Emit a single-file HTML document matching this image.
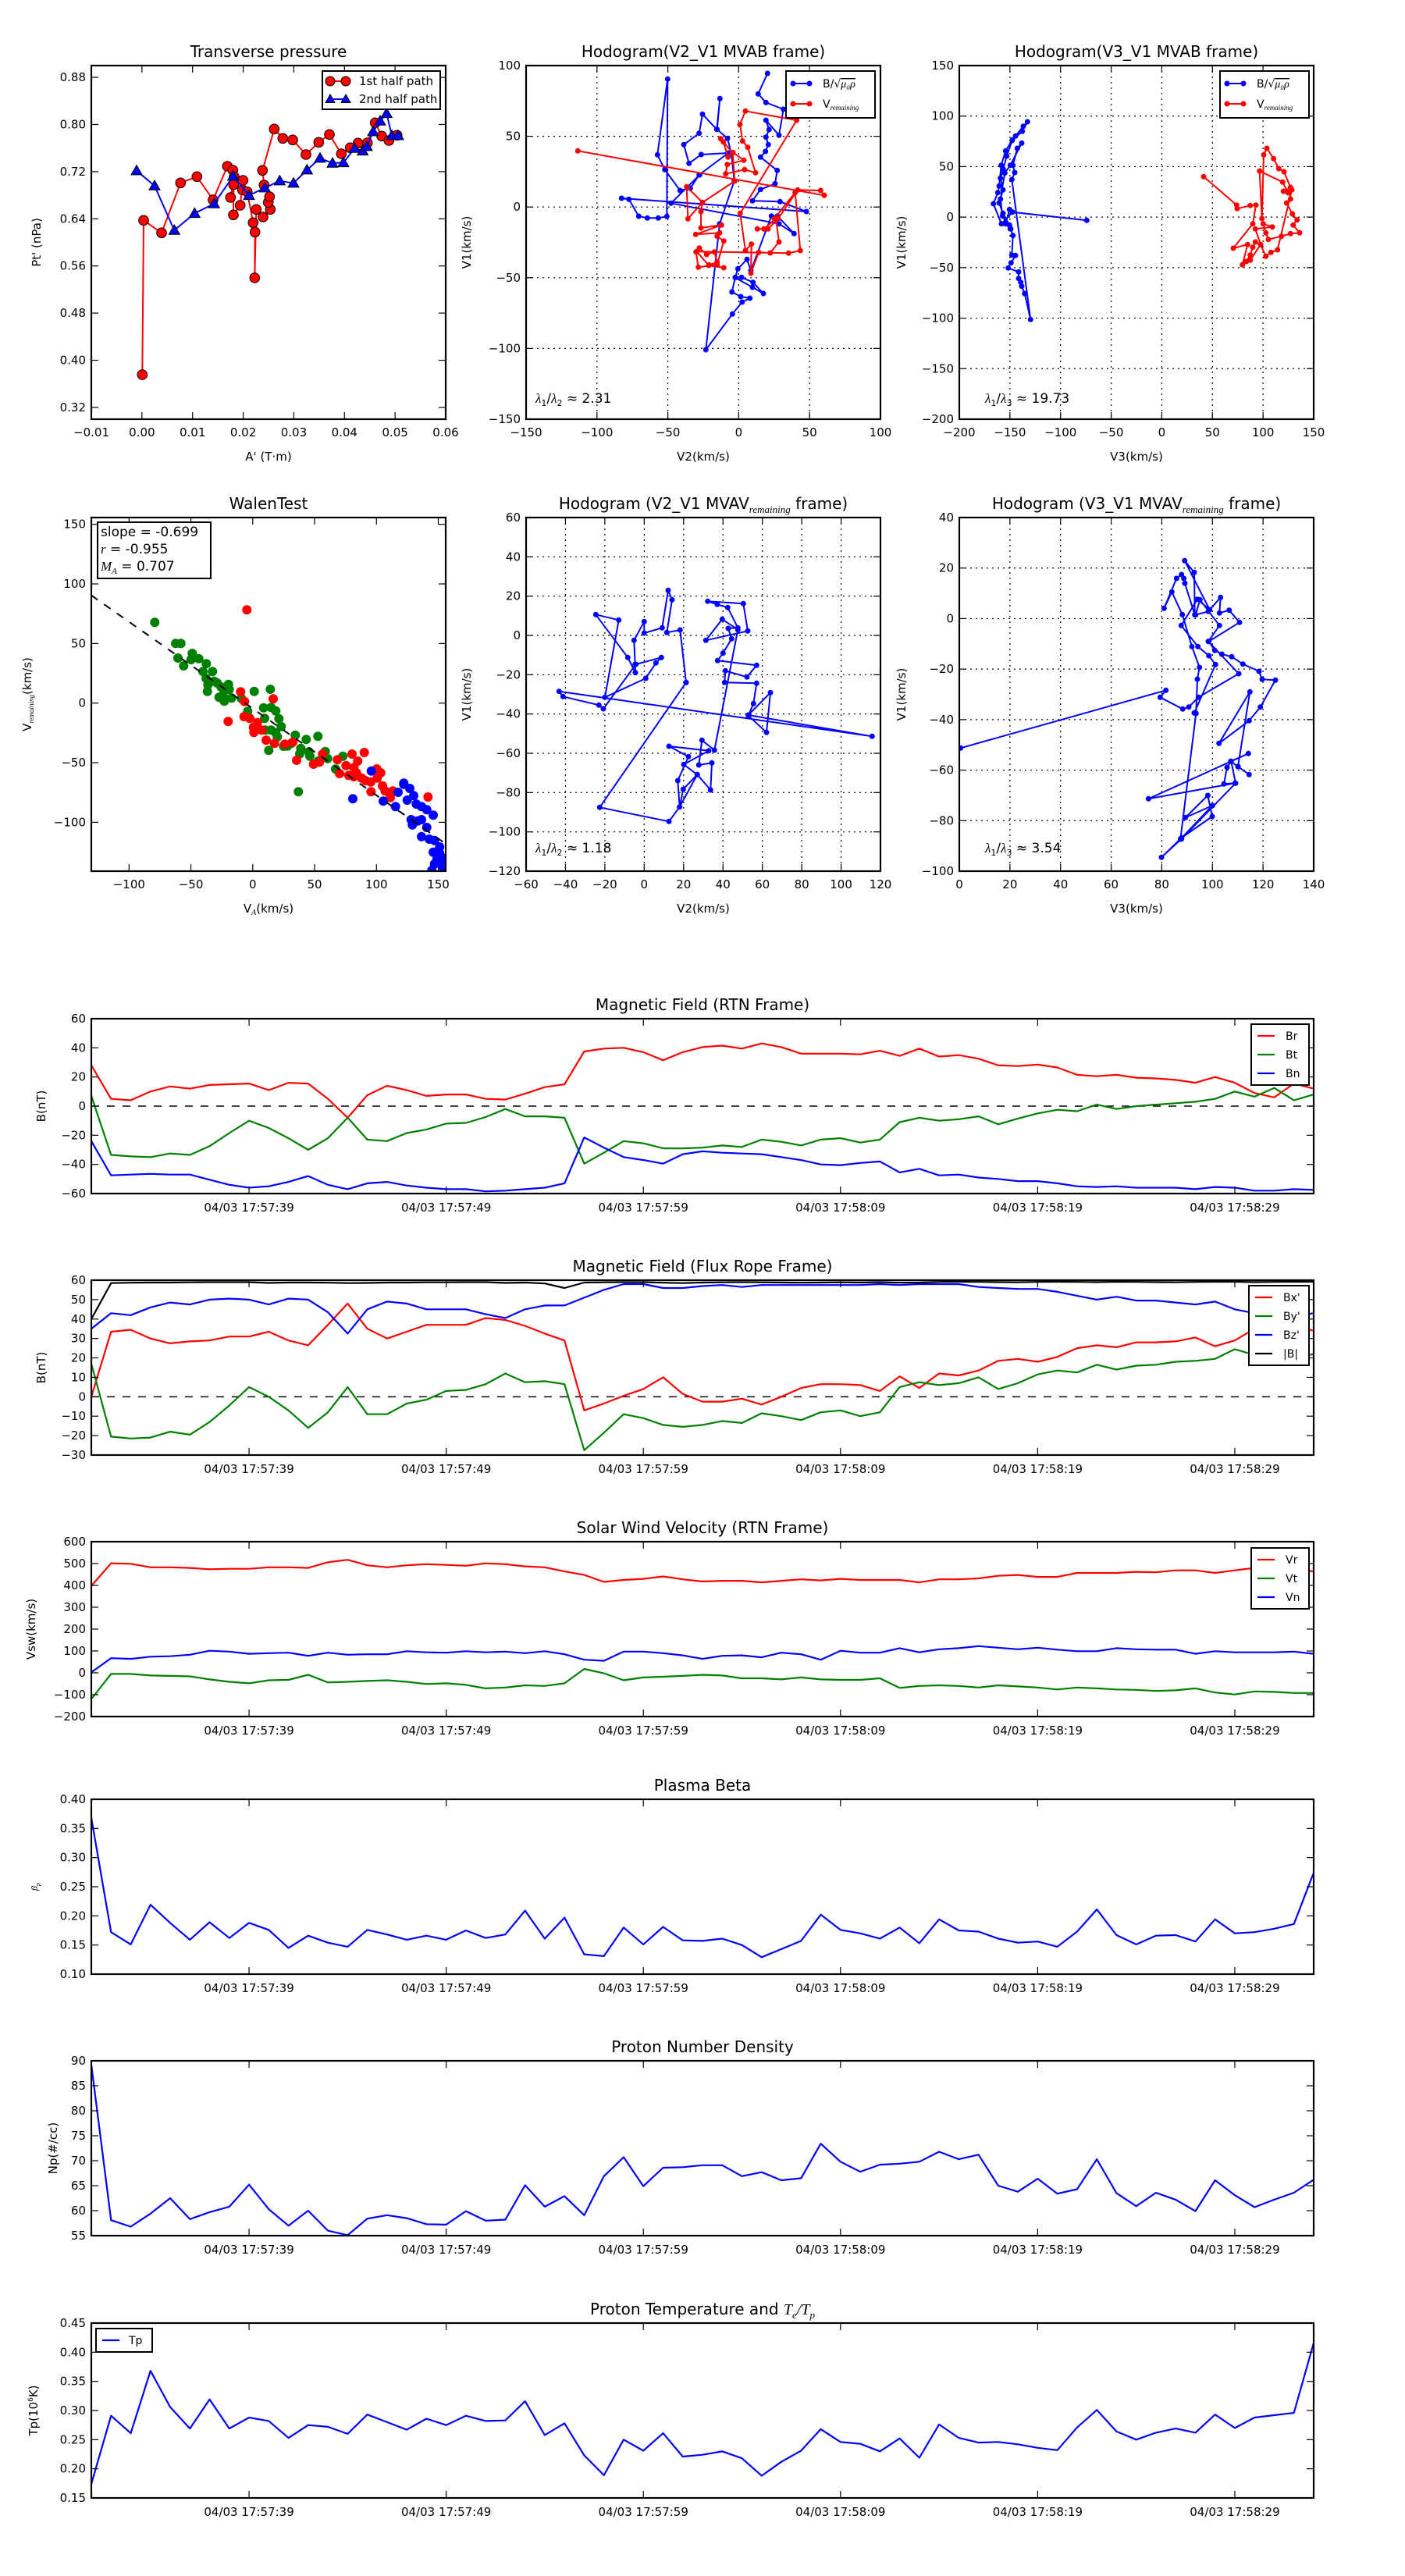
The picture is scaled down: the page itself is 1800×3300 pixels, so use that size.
<!DOCTYPE html>
<html><head><meta charset="utf-8">
<style>
html,body{margin:0;padding:0;background:#fff;}
svg{display:block;}
text{font-family:"DejaVu Sans","Liberation Sans",sans-serif;fill:#000;}
</style></head>
<body>
<svg id="s" xmlns="http://www.w3.org/2000/svg" width="1800" height="3300" viewBox="0 0 1800 3300"></svg>
<script>
var out=[];
function P(s){out.push(s);}
function fmt(v,d){var s=Math.abs(v).toFixed(d);return (v<-1e-9?"\u2212":"")+s;}
var clipId=0;
function frame(x0,y0,w,h){P('<rect x="'+x0+'" y="'+y0+'" width="'+w+'" height="'+h+'" fill="none" stroke="#000" stroke-width="2.2"/>');}
function clip(x0,y0,w,h){clipId++;P('<clipPath id="c'+clipId+'"><rect x="'+x0+'" y="'+y0+'" width="'+w+'" height="'+h+'"/></clipPath>');return 'c'+clipId;}
// generic axis with ticks
function axes(o){
  var x0=o.x0,y0=o.y0,w=o.w,h=o.h;
  var X=function(v){return x0+(v-o.xmin)/(o.xmax-o.xmin)*w;};
  var Y=function(v){return y0+h-(v-o.ymin)/(o.ymax-o.ymin)*h;};
  o.X=X;o.Y=Y;
  // grid
  if(o.grid){
    o.xt.forEach(function(v){var x=X(v);if(x>x0+1&&x<x0+w-1)P('<line x1="'+x+'" y1="'+y0+'" x2="'+x+'" y2="'+(y0+h)+'" stroke="#000" stroke-width="1.2" stroke-dasharray="2,5"/>');});
    o.yt.forEach(function(v){var y=Y(v);if(y>y0+1&&y<y0+h-1)P('<line x1="'+x0+'" y1="'+y+'" x2="'+(x0+w)+'" y2="'+y+'" stroke="#000" stroke-width="1.2" stroke-dasharray="2,5"/>');});
  }
  // ticks + labels
  if(o.xt){o.xt.forEach(function(v){var x=X(v);
    P('<line x1="'+x+'" y1="'+(y0+h)+'" x2="'+x+'" y2="'+(y0+h-9)+'" stroke="#000" stroke-width="1.2"/>');
    P('<line x1="'+x+'" y1="'+y0+'" x2="'+x+'" y2="'+(y0+9)+'" stroke="#000" stroke-width="1.2"/>');
    if(!o.noxl)P('<text x="'+x+'" y="'+(y0+h+22)+'" font-size="15" text-anchor="middle">'+fmt(v,o.xd||0)+'</text>');});}
  o.yt.forEach(function(v){var y=Y(v);
    P('<line x1="'+x0+'" y1="'+y+'" x2="'+(x0+9)+'" y2="'+y+'" stroke="#000" stroke-width="1.2"/>');
    P('<line x1="'+(x0+w)+'" y1="'+y+'" x2="'+(x0+w-9)+'" y2="'+y+'" stroke="#000" stroke-width="1.2"/>');
    P('<text x="'+(x0-7)+'" y="'+(y+5)+'" font-size="15" text-anchor="end">'+fmt(v,o.yd||0)+'</text>');});
  if(o.title)P('<text x="'+(x0+w/2)+'" y="'+(y0-11)+'" font-size="20" text-anchor="middle">'+o.title+'</text>');
  if(o.xlabel)P('<text x="'+(x0+w/2)+'" y="'+(y0+h+53)+'" font-size="15" text-anchor="middle">'+o.xlabel+'</text>');
  if(o.ylabel)P('<text transform="translate('+o.ylx+','+(y0+h/2)+') rotate(-90)" font-size="15" text-anchor="middle">'+o.ylabel+'</text>');
  return o;
}
function poly(pts,col,sw,cid,dash){
  var d=pts.map(function(p,i){return (i?'L':'M')+p[0].toFixed(1)+' '+p[1].toFixed(1);}).join('');
  P('<path d="'+d+'" fill="none" stroke="'+col+'" stroke-width="'+sw+'" stroke-linejoin="round"'+(cid?' clip-path="url(#'+cid+')"':'')+(dash?' stroke-dasharray="'+dash+'"':'')+'/>');
}
function dots(pts,col,r,cid,stroke){
  var g='<g'+(cid?' clip-path="url(#'+cid+')"':'')+'>';
  pts.forEach(function(p){g+='<circle cx="'+p[0].toFixed(1)+'" cy="'+p[1].toFixed(1)+'" r="'+r+'" fill="'+col+'"'+(stroke?' stroke="#000" stroke-width="1"':'')+'/>';});
  P(g+'</g>');
}
function tris(pts,col,s){
  var g='<g>';
  pts.forEach(function(p){var x=p[0],y=p[1];g+='<polygon points="'+x+','+(y-s)+' '+(x-s)+','+(y+s*0.75)+' '+(x+s)+','+(y+s*0.75)+'" fill="'+col+'" stroke="#000" stroke-width="1"/>';});
  P(g+'</g>');
}
function Z(off,arr){return arr.map(function(p){return [off[0]+p[0]/3,off[1]+p[1]/3];});}

// ================= ROW 1 =================
var L1=117,L2=674,L3=1229,W=454,T1=84,T2=663,H=453;
// Panel 1 transverse pressure
var a=axes({x0:L1,y0:T1,w:W,h:H,xmin:-0.01,xmax:0.06,ymin:0.30,ymax:0.90,xt:[-0.01,0,0.01,0.02,0.03,0.04,0.05,0.06],xd:2,yt:[0.32,0.40,0.48,0.56,0.64,0.72,0.80,0.88],yd:2,title:"Transverse pressure",xlabel:"A' (T\u00b7m)",ylabel:"Pt' (nPa)",ylx:52});
var off1=[110,80];
var red1=Z(off1,[[217,1200],[222,607],[291,655],[364,463],[427,439],[489,528],[544,399],[565,414],[570,440],[556,519],[568,470],[567,586],[593,549],[604,453],[602,490],[620,497],[643,616],[650,652],[649,828],[655,565],[681,594],[709,565],[701,538],[706,516],[685,471],[679,415],[724,256],[757,292],[795,298],[846,354],[895,307],[936,277],[982,351],[1016,328],[1046,310],[1082,309],[1112,232],[1137,283],[1165,300],[1196,280]]);
var blue1=Z(off1,[[195,416],[264,474],[340,645],[418,580],[493,543],[566,437],[627,511],[688,482],[745,455],[798,464],[850,413],[900,368],[948,387],[990,385],[1033,330],[1064,340],[1080,323],[1104,266],[1131,225],[1156,196],[1176,281],[1200,281]]);
poly(red1,"#f00",2);dots(red1,"#f00",6.3,null,true);
poly(blue1,"#00f",2);tris(blue1,"#00f",7);
frame(L1,T1,W,H);
P('<rect x="413" y="91" width="151" height="49" fill="#fff" stroke="#000" stroke-width="2"/>');
P('<line x1="423" y1="104" x2="443" y2="104" stroke="#f00" stroke-width="2"/>');
dots([[423,104],[443,104]],"#f00",6,null,true);
P('<line x1="423" y1="127" x2="443" y2="127" stroke="#00f" stroke-width="2"/>');
tris([[423,127],[443,127]],"#00f",6);
P('<text x="460" y="109" font-size="15">1st half path</text>');
P('<text x="460" y="132" font-size="15">2nd half path</text>');

// legend helper for hodograms
function hlegend(x,y){
  P('<rect x="'+x+'" y="'+y+'" width="114" height="60" fill="#fff" stroke="#000" stroke-width="2"/>');
  P('<line x1="'+(x+8)+'" y1="'+(y+16)+'" x2="'+(x+30)+'" y2="'+(y+16)+'" stroke="#00f" stroke-width="2"/>');
  dots([[x+9,y+16],[x+30,y+16]],"#00f",3.5);
  P('<line x1="'+(x+8)+'" y1="'+(y+42)+'" x2="'+(x+30)+'" y2="'+(y+42)+'" stroke="#f00" stroke-width="2"/>');
  dots([[x+9,y+42],[x+30,y+42]],"#f00",3.5);
  P('<text x="'+(x+47)+'" y="'+(y+21)+'" font-size="14">B/\u221A<tspan font-family="Liberation Serif" font-style="italic" text-decoration="overline">\u03BC\u2080\u03C1</tspan></text>');
  P('<text x="'+(x+47)+'" y="'+(y+47)+'" font-size="14">V<tspan font-family="Liberation Serif" font-style="italic" font-size="9" dy="3">remaining</tspan></text>');
}
// Panel 2 hodogram V2 V1
a=axes({x0:L2,y0:T1,w:W,h:H,xmin:-150,xmax:100,ymin:-150,ymax:100,xt:[-150,-100,-50,0,50,100],yt:[-150,-100,-50,0,50,100],grid:true,title:"Hodogram(V2_V1 MVAB frame)",xlabel:"V2(km/s)",ylabel:"V1(km/s)",ylx:603});
var off2=[672,80],c=clip(L2,T1,W,H);
var B2=Z(off2,[[934,42],[898,121],[928,154],[995,180],[978,280],[928,222],[940,258],[928,287],[937,316],[926,342],[907,364],[971,415],[963,466],[907,488],[876,532],[982,535],[1083,573],[373,522],[401,526],[439,591],[472,598],[514,598],[547,592],[550,64],[511,355],[539,412],[598,492],[637,484],[671,432],[783,348],[679,354],[632,388],[612,316],[671,272],[684,199],[739,257],[751,139],[740,257],[780,292],[795,350],[806,455],[750,620],[697,1104],[799,967],[836,921],[866,906],[831,900],[797,882],[810,826],[834,826],[878,845],[918,888],[876,864],[810,827],[820,793],[855,757],[870,800],[949,590],[972,590],[1036,658],[978,620],[563,541],[673,432]]);
var R2=Z(off2,[[205,340],[1152,511],[1138,492],[1050,490],[975,600],[936,640],[895,640],[920,640],[966,600],[978,690],[944,732],[900,730],[870,810],[872,698],[849,723],[829,580],[1046,222],[849,187],[828,238],[838,302],[858,326],[888,424],[846,412],[773,428],[779,392],[843,376],[801,346],[782,364],[764,305],[754,293],[800,348],[808,456],[684,538],[628,601],[623,478],[684,538],[678,573],[678,636],[757,625],[658,661],[750,655],[740,668],[766,686],[740,778],[668,787],[659,728],[672,713],[700,738],[730,728],[740,768],[709,778],[766,789],[708,780],[662,727],[1015,733],[1060,723],[1040,500],[960,600]]);
poly(B2,"#00f",2,c);dots(B2,"#00f",3.5,c);
poly(R2,"#f00",2,c);dots(R2,"#f00",3.5,c);
frame(L2,T1,W,H);hlegend(1007,91);
P('<text x="686" y="516" font-size="17"><tspan font-family="Liberation Serif" font-style="italic">\u03BB</tspan><tspan font-size="11" dy="4">1</tspan><tspan dy="-4">/</tspan><tspan font-family="Liberation Serif" font-style="italic">\u03BB</tspan><tspan font-size="11" dy="4">2</tspan><tspan dy="-4"> \u2248 2.31</tspan></text>');

// Panel 3 hodogram V3 V1
a=axes({x0:L3,y0:T1,w:W,h:H,xmin:-200,xmax:150,ymin:-200,ymax:150,xt:[-200,-150,-100,-50,0,50,100,150],yt:[-200,-150,-100,-50,0,50,100,150],grid:true,title:"Hodogram(V3_V1 MVAB frame)",xlabel:"V3(km/s)",ylabel:"V1(km/s)",ylx:1160});
var off3=[1235,80];c=clip(L3,T1,W,H);
var B3=Z(off3,[[472,607],[187,575],[144,620],[113,543],[130,500],[135,475],[143,395],[160,340],[185,300],[198,283],[228,245],[244,228],[224,265],[186,298],[164,360],[151,410],[140,445],[150,490],[135,540],[150,580],[175,625],[180,640],[188,665],[184,740],[198,742],[181,770],[170,790],[210,805],[210,830],[218,845],[222,860],[233,888],[256,988],[184,450],[195,423],[188,395],[205,330],[222,310],[178,395],[157,425],[140,525],[148,590],[178,640],[160,620],[175,565]]);
var R3=Z(off3,[[921,439],[1048,548],[1050,562],[1100,550],[1122,548],[1110,620],[1035,714],[1090,700],[1070,778],[1100,760],[1140,700],[1120,640],[1185,632],[1150,620],[1160,655],[1170,680],[1220,668],[1255,658],[1290,655],[1265,625],[1280,605],[1262,582],[1240,540],[1255,525],[1250,500],[1228,495],[1255,480],[1230,420],[1210,408],[1190,370],[1164,330],[1152,355],[1145,600],[1136,417],[1225,460],[1245,500],[1260,490],[1205,720],[1180,730],[1160,745],[1140,700],[1120,690],[1110,710],[1100,740],[1085,765]]);
poly(B3,"#00f",2,c);dots(B3,"#00f",3.5,c);
poly(R3,"#f00",2,c);dots(R3,"#f00",3.5,c);
frame(L3,T1,W,H);hlegend(1563,91);
P('<text x="1262" y="516" font-size="17"><tspan font-family="Liberation Serif" font-style="italic">\u03BB</tspan><tspan font-size="11" dy="4">1</tspan><tspan dy="-4">/</tspan><tspan font-family="Liberation Serif" font-style="italic">\u03BB</tspan><tspan font-size="11" dy="4">3</tspan><tspan dy="-4"> \u2248 19.73</tspan></text>');

// ================= ROW 2 =================
// Walen test
a=axes({x0:L1,y0:T2,w:W,h:H,xmin:-130.5,xmax:156,ymin:-141,ymax:155.7,xt:[-100,-50,0,50,100,150],yt:[-100,-50,0,50,100,150],title:"WalenTest",xlabel:"V<tspan font-size=\"10\" dy=\"3\" font-family=\"Liberation Serif\" font-style=\"italic\">A</tspan><tspan dy=\"-3\">(km/s)</tspan>",ylabel:"V<tspan font-size=\"9\" dy=\"3\" font-family=\"Liberation Serif\" font-style=\"italic\">remaining</tspan><tspan dy=\"-3\">(km/s)</tspan>",ylx:40});
var offW=[110,660];c=clip(L1,T2,W,H);
var GW=Z(offW,[[265,412],[345,493],[365,493],[354,549],[376,579],[409,531],[404,555],[434,551],[463,571],[450,601],[487,601],[462,627],[469,652],[467,677],[493,638],[505,645],[520,660],[548,650],[551,670],[527,690],[512,700],[532,715],[560,703],[598,704],[622,754],[647,677],[709,669],[683,740],[712,739],[730,752],[687,781],[742,782],[751,812],[712,826],[690,826],[730,836],[736,852],[703,904],[760,888],[775,887],[790,877],[805,845],[847,862],[826,896],[822,917],[857,909],[861,926],[892,850],[920,908],[893,945],[929,935],[960,976],[988,926],[817,1063]]);
var RW=Z(offW,[[619,364],[595,679],[720,706],[610,716],[547,793],[608,774],[630,781],[659,797],[644,815],[646,835],[676,826],[693,865],[725,877],[765,880],[795,872],[810,942],[875,957],[898,949],[910,918],[967,940],[1023,918],[1070,912],[975,993],[1000,962],[1030,970],[1045,945],[1030,1005],[1010,1000],[1040,990],[1060,1010],[1075,1020],[1095,1025],[1118,975],[1133,990],[1120,1010],[1140,1040],[1150,1060],[1096,1063],[1170,1085],[1180,1060],[1315,1083]]);
var BW=Z(offW,[[1097,983],[1026,1090],[1143,1099],[1190,1120],[1200,1065],[1222,1034],[1245,1050],[1260,1078],[1235,1095],[1270,1110],[1290,1120],[1310,1132],[1335,1153],[1250,1170],[1275,1175],[1255,1190],[1310,1200],[1290,1235],[1320,1245],[1340,1250],[1360,1275],[1335,1295],[1350,1320],[1365,1330],[1340,1340],[1370,1350],[1380,1360],[1330,1365],[1360,1300],[1375,1320],[1222,1030],[1290,1170]]);
dots(GW,"#008000",6,c);dots(RW,"#f00",6,c);dots(BW,"#00f",6,c);
poly([[117,762.7],[571,1081]],"#000",2,c,"10,10");
frame(L1,T2,W,H);
P('<rect x="125" y="669" width="145" height="72" fill="#fff" stroke="#000" stroke-width="2"/>');
P('<text x="129" y="687" font-size="17">slope = -0.699</text>');
P('<text x="129" y="709" font-size="17"><tspan font-family="Liberation Serif" font-style="italic">r</tspan> = -0.955</text>');
P('<text x="129" y="731" font-size="17"><tspan font-family="Liberation Serif" font-style="italic">M</tspan><tspan font-family="Liberation Serif" font-style="italic" font-size="11" dy="4">A</tspan><tspan dy="-4"> = 0.707</tspan></text>');

// Hodogram V2 V1 MVAV
var sub='<tspan font-family="Liberation Serif" font-style="italic" font-size="13" dy="5">remaining</tspan><tspan dy="-5">';
a=axes({x0:L2,y0:T2,w:W,h:H,xmin:-60,xmax:120,ymin:-120,ymax:60,xt:[-60,-40,-20,0,20,40,60,80,100,120],yt:[-120,-100,-80,-60,-40,-20,0,20,40,60],grid:true,title:"Hodogram (V2_V1 MVAV"+sub+" frame)</tspan>",xlabel:"V2(km/s)",ylabel:"V1(km/s)",ylx:603});
var off5=[672,660];c=clip(L2,T2,W,H);
var B5=Z(off5,[[621,643],[598,441],[547,451],[567,325],[552,289],[529,433],[460,453],[460,409],[421,481],[425,573],[426,605],[397,547],[274,382],[362,403],[309,700],[466,627],[505,568],[526,547],[428,573],[303,744],[286,730],[148,697],[133,677],[1336,850],[860,768],[945,682],[930,835],[860,770],[880,724],[892,646],[769,643],[772,598],[855,622],[892,577],[742,559],[763,530],[796,475],[783,435],[820,433],[781,355],[741,343],[704,331],[841,340],[858,445],[697,481],[760,400],[820,440],[730,903],[682,865],[670,960],[720,952],[715,1056],[664,997],[612,958],[708,905],[555,888],[630,928],[589,1020],[596,1121],[610,1053],[664,997],[596,1121],[555,1177],[289,1123],[621,643]]);
poly(B5,"#00f",2,c);dots(B5,"#00f",3.5,c);
frame(L2,T2,W,H);
P('<text x="686" y="1092" font-size="17"><tspan font-family="Liberation Serif" font-style="italic">\u03BB</tspan><tspan font-size="11" dy="4">1</tspan><tspan dy="-4">/</tspan><tspan font-family="Liberation Serif" font-style="italic">\u03BB</tspan><tspan font-size="11" dy="4">2</tspan><tspan dy="-4"> \u2248 1.18</tspan></text>');

// Hodogram V3 V1 MVAV
a=axes({x0:L3,y0:T2,w:W,h:H,xmin:0,xmax:140,ymin:-100,ymax:40,xt:[0,20,40,60,80,100,120,140],yt:[-100,-80,-60,-40,-20,0,20,40],grid:true,title:"Hodogram (V3_V1 MVAV"+sub+" frame)</tspan>",xlabel:"V3(km/s)",ylabel:"V1(km/s)",ylx:1160});
var off6=[1228,660];c=clip(L3,T2,W,H);
var B6=Z(off6,[[8,895],[797,673],[775,700],[862,745],[885,737],[922,700],[1077,609],[960,485],[1003,424],[928,325],[911,383],[960,370],[1007,316],[1003,376],[1040,365],[1080,412],[962,485],[985,520],[1012,534],[1050,544],[1093,572],[1155,600],[1167,631],[1218,634],[1160,737],[1117,790],[1001,877],[1120,679],[1074,966],[1117,997],[1074,966],[1046,946],[1114,916],[730,1090],[1063,1030],[1020,1033],[1032,969],[1048,946],[1065,1030],[857,1244],[780,1315],[857,1240],[975,1158],[958,1077],[872,1162],[976,1116],[853,1245],[913,762],[918,630],[926,585],[897,505],[860,382],[820,295],[790,358],[838,243],[857,228],[866,243],[870,262],[908,383],[906,220],[869,175],[965,363],[918,323],[856,424],[920,505],[962,540],[988,574],[906,760]]);
poly(B6,"#00f",2,c);dots(B6,"#00f",3.5,c);
frame(L3,T2,W,H);
P('<text x="1262" y="1092" font-size="17"><tspan font-family="Liberation Serif" font-style="italic">\u03BB</tspan><tspan font-size="11" dy="4">1</tspan><tspan dy="-4">/</tspan><tspan font-family="Liberation Serif" font-style="italic">\u03BB</tspan><tspan font-size="11" dy="4">3</tspan><tspan dy="-4"> \u2248 3.54</tspan></text>');

// ================= TIME SERIES =================
var TX0=117,TW=1566,TH=224,dx=TW/62;
var tticks=["04/03 17:57:39","04/03 17:57:49","04/03 17:57:59","04/03 17:58:09","04/03 17:58:19","04/03 17:58:29"];
function ts(o){
  var x0=TX0,y0=o.y0,w=TW,h=TH;
  var Y=function(v){return y0+h-(v-o.ymin)/(o.ymax-o.ymin)*h;};
  var cid=clip(x0,y0,w,h);
  if(o.zero)P('<line x1="'+x0+'" y1="'+Y(0)+'" x2="'+(x0+w)+'" y2="'+Y(0)+'" stroke="#000" stroke-width="1.5" stroke-dasharray="10,10"/>');
  o.series.forEach(function(s){
    poly(s.d.map(function(v,i){return [x0+i*dx,Y(v)];}),s.c,2.2,cid);
  });
  frame(x0,y0,w,h);
  for(var k=0;k<6;k++){var x=x0+(8+10*k)*dx;
    P('<line x1="'+x+'" y1="'+(y0+h)+'" x2="'+x+'" y2="'+(y0+h-9)+'" stroke="#000" stroke-width="1.2"/>');
    P('<line x1="'+x+'" y1="'+y0+'" x2="'+x+'" y2="'+(y0+9)+'" stroke="#000" stroke-width="1.2"/>');
    P('<text x="'+x+'" y="'+(y0+h+23)+'" font-size="15" text-anchor="middle">'+tticks[k]+'</text>');}
  for(var v=o.ymin;v<=o.ymax+1e-9;v+=o.ys){var y=Y(v);
    P('<line x1="'+x0+'" y1="'+y+'" x2="'+(x0+9)+'" y2="'+y+'" stroke="#000" stroke-width="1.2"/>');
    P('<line x1="'+(x0+w)+'" y1="'+y+'" x2="'+(x0+w-9)+'" y2="'+y+'" stroke="#000" stroke-width="1.2"/>');
    P('<text x="'+(x0-7)+'" y="'+(y+5)+'" font-size="15" text-anchor="end">'+fmt(v,o.yd||0)+'</text>');}
  P('<text x="'+(x0+w/2)+'" y="'+(y0-11)+'" font-size="20" text-anchor="middle">'+o.title+'</text>');
  P('<text transform="translate('+o.ylx+','+(y0+h/2)+') rotate(-90)" font-size="15" text-anchor="middle">'+o.ylabel+'</text>');
  if(o.legend){var lx=o.legend[0],ly=o.legend[1],n=o.series.length;
    P('<rect x="'+lx+'" y="'+ly+'" width="'+o.legend[2]+'" height="'+(n*24+6)+'" fill="#fff" stroke="#000" stroke-width="2"/>');
    o.series.forEach(function(s,i){var yy=ly+15+i*24;
      P('<line x1="'+(lx+8)+'" y1="'+yy+'" x2="'+(lx+30)+'" y2="'+yy+'" stroke="'+s.c+'" stroke-width="2.2"/>');
      P('<text x="'+(lx+o.legend[3])+'" y="'+(yy+5)+'" font-size="14">'+s.n+'</text>');});}
}
var Br=[28,5,4,10,13.5,12,14.5,15,15.5,11,16,15.5,5,-8,7.5,14,11,7,8,8,5,4.5,8.5,13,15,37.5,39.5,40,37,31.5,37,40.5,41.5,39.5,43,40.5,36,36,36,35.5,38,34.5,39.5,34,35,32.5,28,27.5,28.5,26.5,21.5,20.5,21.5,19.5,19,18,16,20,16,9,6,15.5,12];
var Bt=[7,-33.5,-34.5,-35,-32.5,-33.5,-27.5,-18.5,-10,-15,-22,-30,-22,-8,-23,-24,-18.5,-16,-12,-11.5,-7.5,-2,-7,-7,-8,-39.5,-32,-24,-25.5,-29,-29,-28.5,-27,-28,-23,-24.5,-27,-23,-22,-25,-23,-11,-8,-10,-9,-7,-12.5,-8.5,-5,-2.5,-3.5,1,-2,0,1,2,3,5,10,6.5,12.5,4,8];
var Bn=[-24,-47.5,-47,-46.5,-47,-47,-50.5,-54,-56,-55,-52,-48,-54,-57,-53,-52,-54.5,-56,-57,-57,-58.5,-58,-57,-56,-53,-21.5,-28.5,-35,-37,-39.5,-33,-31,-32,-32.5,-33,-35,-37,-40,-40.5,-39,-38,-45.5,-43,-47.5,-47,-49,-50,-51.5,-51.5,-53,-55,-55.5,-55,-56,-56,-56,-57,-55.5,-56,-58,-58,-57,-57.5];
ts({y0:1305,ymin:-60,ymax:60,ys:20,zero:true,title:"Magnetic Field (RTN Frame)",ylabel:"B(nT)",ylx:58,series:[{d:Br,c:"#f00",n:"Br"},{d:Bt,c:"#008000",n:"Bt"},{d:Bn,c:"#00f",n:"Bn"}],legend:[1603,1312,74,44]});
var Bx=[0,33.5,34.5,30,27.5,28.5,29,31,31,33.5,29,26.5,37,48,35,30,33.5,37,37,37,40.5,39.5,36.5,32.5,29,-7,-3.5,0.5,4,10,1.5,-2.5,-2.5,-1,-4,0,4.5,6.5,6.5,6,3,10.5,4.5,12,11,13.5,18.5,19.5,18,20.5,25,26.5,25.5,28,28,28.5,30.5,26,29,35,35,36.5,34];
var By=[17,-20.5,-21.5,-21,-18,-19.5,-13,-4.5,5,0,-7,-16,-8,5,-9,-9,-3.5,-1.5,3,3.5,6.5,12,7.5,8,6.5,-27.5,-18.5,-9,-11,-14.5,-15.5,-14.5,-12.5,-13.5,-8.5,-10,-12,-8,-7,-10,-8,5,7.5,6,7,10,4,7,11.5,13.5,12.5,16.5,14,16,16.5,18,18.5,19.5,24.5,21.5,19.5,20,22];
var Bz=[35,43,42,46,48.5,47.5,50,50.5,50,47.5,50.5,50,43.5,32.5,45,49,48,45,45,45,42.5,40.5,45,47,47,51,55,58,58,56,56,57,57.5,56.5,57.5,57.5,57.5,57.5,57.5,57.5,58,57.5,58,58,58,56.5,56,55.5,55.5,54,52,50,51.5,49.5,49.5,48.5,47.5,49,45,43,41,41.5,43];
var Bm=[40,58.5,58.7,58.8,58.8,58.9,59,59,59,58.6,58.8,58.8,58.7,58.5,58.6,58.8,58.8,58.9,58.9,59,59,58.6,58.8,58.3,56,58.8,58.9,59,59,58.7,58.5,58.8,58.9,59,58.9,58.8,58.7,58.8,58.9,58.8,59,58.7,58.8,59.1,59.2,59.1,59,58.9,59.1,59.2,59.1,59,59.2,59.1,59,58.9,59.1,59.2,59.2,59,59.1,59.2,59.2];
ts({y0:1640,ymin:-30,ymax:60,ys:10,zero:true,title:"Magnetic Field (Flux Rope Frame)",ylabel:"B(nT)",ylx:58,series:[{d:Bx,c:"#f00",n:"Bx'"},{d:By,c:"#008000",n:"By'"},{d:Bz,c:"#00f",n:"Bz'"},{d:Bm,c:"#000",n:"|B|"}],legend:[1600,1647,77,44]});
var Vr=[398,501,499,483,483,480,474,476,476,483,483,480,506,517,492,483,492,497,494,490,501,497,487,483,464,448,416,425,430,441,428,418,421,421,414,421,428,423,430,425,425,425,414,428,428,432,444,448,439,439,457,457,457,462,460,469,469,457,469,480,490,476,464];
var Vt=[-120,-5,-5,-12,-14,-16,-30,-41,-48,-34,-32,-9,-44,-41,-37,-34,-41,-51,-48,-55,-71,-67,-57,-60,-48,18,-2,-34,-21,-18,-14,-9,-12,-25,-25,-30,-21,-30,-32,-32,-25,-69,-60,-57,-60,-67,-57,-62,-67,-76,-67,-71,-76,-78,-83,-80,-71,-90,-99,-85,-87,-92,-92];
var Vn=[2,67,64,74,76,83,101,97,87,90,92,78,92,83,85,85,99,94,92,99,94,97,90,99,85,60,55,97,97,90,80,64,78,80,71,92,85,60,101,92,92,113,94,108,113,122,115,108,115,106,99,99,113,108,106,106,87,99,94,94,94,97,87];
ts({y0:1975,ymin:-200,ymax:600,ys:100,title:"Solar Wind Velocity (RTN Frame)",ylabel:"Vsw(km/s)",ylx:45,series:[{d:Vr,c:"#f00",n:"Vr"},{d:Vt,c:"#008000",n:"Vt"},{d:Vn,c:"#00f",n:"Vn"}],legend:[1603,1983,74,44]});
var Be=[.368,.172,.151,.219,.188,.159,.189,.162,.188,.176,.145,.166,.154,.147,.176,.168,.159,.166,.159,.175,.162,.168,.209,.161,.197,.134,.131,.180,.151,.181,.158,.157,.161,.150,.129,.143,.157,.202,.176,.170,.161,.180,.153,.194,.175,.173,.161,.154,.156,.147,.173,.211,.167,.151,.166,.167,.156,.194,.170,.172,.178,.186,.274];
ts({y0:2305,ymin:0.10,ymax:0.40,ys:0.05,yd:2,title:"Plasma Beta",ylabel:"<tspan font-family=\"Liberation Serif\" font-style=\"italic\" font-size=\"12\">\u03B2</tspan><tspan font-family=\"Liberation Serif\" font-style=\"italic\" font-size=\"8\" dy=\"3\">p</tspan>",ylx:48,series:[{d:Be,c:"#00f",n:""}]});
var Np=[89.2,58.1,56.8,59.4,62.5,58.3,59.7,60.8,65.2,60.3,57,60,56,55.1,58.4,59.1,58.5,57.3,57.2,59.9,58,58.2,65.1,60.8,62.9,59.1,66.9,70.7,64.9,68.6,68.7,69.1,69.1,66.9,67.7,66.1,66.5,73.4,69.8,67.8,69.2,69.4,69.8,71.8,70.3,71.2,65,63.8,66.4,63.4,64.3,70.3,63.5,60.9,63.6,62.2,59.9,66.1,63.1,60.7,62.2,63.6,66.2];
ts({y0:2640,ymin:55,ymax:90,ys:5,title:"Proton Number Density",ylabel:"Np(#/cc)",ylx:73,series:[{d:Np,c:"#00f",n:""}]});
var Tp=[.174,.291,.261,.368,.306,.269,.319,.269,.288,.282,.253,.275,.272,.260,.293,.280,.267,.286,.275,.291,.282,.283,.316,.258,.278,.223,.189,.250,.231,.261,.221,.224,.230,.218,.188,.212,.231,.268,.246,.243,.230,.252,.219,.276,.253,.245,.246,.242,.236,.232,.271,.301,.264,.250,.262,.269,.262,.293,.270,.288,.292,.296,.416];
ts({y0:2976,ymin:0.15,ymax:0.45,ys:0.05,yd:2,title:"Proton Temperature and <tspan font-family=\"Liberation Serif\" font-style=\"italic\">T</tspan><tspan font-family=\"Liberation Serif\" font-style=\"italic\" font-size=\"13\" dy=\"5\">e</tspan><tspan dy=\"-5\" font-family=\"Liberation Serif\" font-style=\"italic\">/T</tspan><tspan font-family=\"Liberation Serif\" font-style=\"italic\" font-size=\"13\" dy=\"5\">p</tspan>",ylabel:"Tp(10<tspan font-size=\"9\" dy=\"-6\">6</tspan><tspan dy=\"6\">K)</tspan>",ylx:48,series:[{d:Tp,c:"#00f",n:"Tp"}],legend:[123,2983,72,42]});

document.getElementById('s').innerHTML=out.join('');
</script>
</body></html>
